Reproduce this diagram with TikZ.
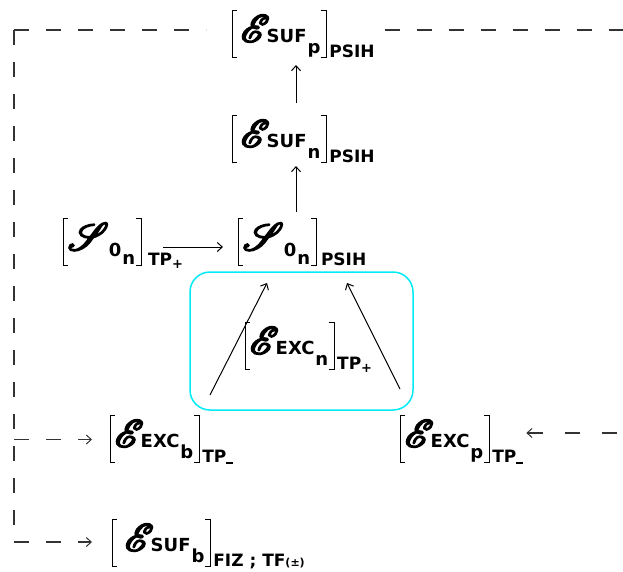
\documentclass[tikz,border=0pt]{standalone}
\usepackage{fontspec}
\usepackage{mathrsfs}
\usepackage{graphicx}
\usetikzlibrary{arrows.meta}
\newfontfamily\df{DejaVu Sans}
\definecolor{cy}{RGB}{0,235,245}
\newcommand\lbrk{\rlap{\rule[31.1pt]{5pt}{0.9pt}}\rlap{\rule[-16pt]{5pt}{0.9pt}}\rule[-16pt]{0.9pt}{48pt}}
\newcommand\rbrk{\llap{\rule[31.1pt]{5pt}{0.9pt}}\llap{\rule[-16pt]{5pt}{0.9pt}}\rule[-16pt]{0.9pt}{48pt}}
\newcommand\heavy[1]{\special{pdf:literal direct 2 Tr 1.2 w}#1\special{pdf:literal direct 0 Tr 1 w}}
\newcommand\scl[1]{\scalebox{1.55}{\fontsize{24.88}{26}\selectfont\heavy{$\mathscr{#1}$}}\hspace{-3pt}}
\newcommand\subt[1]{{\df\bfseries\fontsize{18}{18}\selectfont #1}}
\newcommand\ssub[2]{\hspace{1pt}\raisebox{-#1}{\df\bfseries\fontsize{18}{18}\selectfont #2}}
\newcommand\outt[1]{\hspace{2pt}\raisebox{-15pt}{\df\bfseries\fontsize{17}{17}\selectfont #1}}
\newcommand\tpp{TP\raisebox{-3pt}{\fontsize{13}{13}\selectfont +}}
\newcommand\tpm{TP\raisebox{-2pt}{\rule{7pt}{1.6pt}}}
\newcommand\term[6]{\lbrk\hspace{#1}\scl{#2}#3\ssub{#4}{#5}\hspace{6pt}\rbrk\outt{#6}}
\tikzset{
  term/.style={inner sep=0pt, outer sep=0pt, anchor=base west},
  arr/.style={line width=1pt, -{Straight Barb[length=5pt,width=9pt]}},
  dsh/.style={line width=1.8pt, dash pattern=on 15pt off 17pt, color=black!80},
  darr/.style={dsh, -{Straight Barb[length=5pt,width=9pt,line width=1pt]}},
  dlarr/.style={dsh, dash pattern=on 15pt off 22pt, {Straight Barb[length=5pt,width=9pt,line width=1pt]}-},
  cbox/.style={draw=cy, line width=1.5pt, rounded corners=20pt, inner sep=0pt}
}
\begin{document}
\begin{tikzpicture}[x=1pt,y=-1pt]
\useasboundingbox (0,0) rectangle (623,571);
% nodes
\node[term] (n1) at (232,42)  {\term{8pt}{E}{\subt{SUF}}{11pt}{p}{PSIH}};
\node[term] (n2) at (232,147) {\term{8pt}{E}{\subt{SUF}}{11pt}{n}{PSIH}};
\node[term] (n3) at (63,250)  {\term{4pt}{S}{\hspace{3pt}\raisebox{-6pt}{\subt{0}}}{14pt}{n}{\hspace{4pt}\tpp}};
\node[term] (n4) at (238,250) {\term{4pt}{S}{\hspace{3pt}\raisebox{-6pt}{\subt{0}}}{14pt}{n}{\hspace{2pt}PSIH}};
\node[term] (n5) at (245,354) {\term{4pt}{E}{\subt{EXC}}{11pt}{n}{\tpp}};
\node[term] (n6) at (110,447) {\term{4pt}{E}{\subt{EXC}}{11pt}{b}{\tpm}};
\node[term] (n7) at (400,447) {\term{4pt}{E}{\subt{EXC}}{11pt}{p}{\tpm}};
\node[term] (n8) at (112,551) {\term{12pt}{E}{\subt{SUF}}{11pt}{b}{FIZ ; TF{\fontsize{11}{11}\selectfont(±)}}};
\node[cbox, minimum width=223pt, minimum height=138pt] (box) at (301.5,341) {};
% coordinates
\coordinate (ax) at (296,0);
\coordinate (tl) at (14,30);
\coordinate (tr) at (623,30);
\coordinate (bl) at (14,542);
\coordinate (rr) at (623,433);
\coordinate (a1s) at (210,395);
\coordinate (a1e) at (267,283);
\coordinate (a2s) at (400,389);
\coordinate (a2e) at (347,283);
% solid arrows
\draw[arr, shorten <=12pt, shorten >=7pt] (n2.north -| ax) -- (n1.south -| ax);
\draw[arr, shorten <=6pt, shorten >=3pt] (n4.north -| ax) -- (n2.south -| ax);
\draw[arr] ([xshift=-20pt,yshift=3pt]n3.base east) -- ([xshift=-15pt,yshift=3pt]n4.base west);
\draw[arr] (a1s) -- (a1e);
\draw[arr] (a2s) -- (a2e);
% dashed feedback lines
\draw[dsh, shorten >=26pt] (tl) -- (n1.west |- tl);
\draw[dsh] (tl) -- (bl);
\draw[dsh, shorten <=10pt] (n1.east |- tr) -- (tr);
\draw[darr, shorten >=18pt] (tl |- n6.west) -- (n6.west);
\draw[darr, shorten >=20pt] (bl) -- (bl -| n8.west);
\draw[dlarr, shorten <=3pt] (rr -| n7.east) -- (rr);
\end{tikzpicture}
\end{document}
